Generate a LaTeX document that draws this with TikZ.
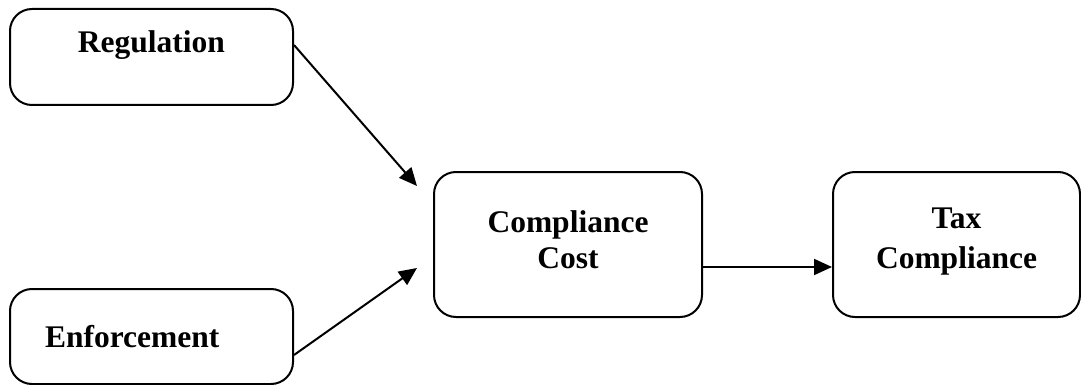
\documentclass[tikz,border=0pt]{standalone}
\usepackage{fontspec}
\setmainfont{Liberation Serif}
\usetikzlibrary{arrows.meta}

\begin{document}
\begin{tikzpicture}[x=0.5pt, y=-0.5pt,
  caja/.style={draw, line width=1pt, rounded corners=11pt, align=center,
    font=\fontsize{15.75}{18}\selectfont\bfseries},
  flecha/.style={line width=1pt, -{Triangle[length=9pt,width=8pt]}}]
\useasboundingbox (0,0) rectangle (1081,385);

% Cajas
\node[caja, minimum width=141.5pt, minimum height=48pt] (reg) at (151.5,57) {Regulation\\[-3pt]~};
\node[caja, minimum width=141.5pt, minimum height=47.5pt, text width=106.5pt,
  inner xsep=17.5pt, align=left] (enf) at (151.5,336.5) {Enforcement};
\node[caja, minimum width=134pt, minimum height=72.5pt] (cost) at (568,244.5) {Compliance\\Cost\\[-13pt]~};
\node[caja, minimum width=123.5pt, minimum height=72.5pt] (tax) at (956.5,244.5) {Tax\\[2pt]Compliance\\[-12pt]~};

% Puntas libres
\coordinate (in1) at (417,186);
\coordinate (in2) at (417,268);

% Flechas
\draw[flecha] ([yshift=6pt]reg.east) -- (in1);
\draw[flecha] ([yshift=-9.25pt]enf.east) -- (in2);
\draw[flecha] ([yshift=-11.25pt]cost.east) -- ([yshift=-11.25pt]tax.west);
\end{tikzpicture}
\end{document}
